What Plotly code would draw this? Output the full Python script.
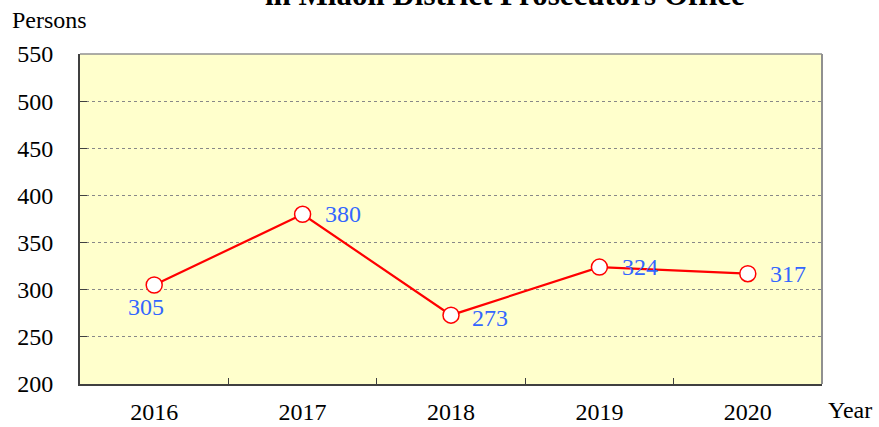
import plotly.graph_objects as go

years = ["2016", "2017", "2018", "2019", "2020"]
persons = [305, 380, 273, 324, 317]
y_ticks = [200, 250, 300, 350, 400, 450, 500, 550]
title_text = "in Miaoli District Prosecutors Office"

label_shift = [(-8, -22), (40, 0), (39, -3), (41, 0), (40, 0)]

FONT = "Liberation Serif, Times New Roman, serif"

fig = go.Figure()
fig.add_trace(go.Scatter(
    x=years, y=persons, mode="lines+markers",
    line=dict(color="#ff0000", width=2.2),
    marker=dict(size=16, color="white", line=dict(color="#ff0000", width=1.5)),
    hoverinfo="skip", showlegend=False,
))

annotations = []
for i, (v, (dx, dy)) in enumerate(zip(persons, label_shift)):
    annotations.append(dict(x=i, y=v, xref="x", yref="y", text=str(v), showarrow=False,
                            xshift=dx, yshift=dy,
                            font=dict(family=FONT, size=24, color="#3366ff")))
annotations.append(dict(x=-0.094, y=1.103, xref="paper", yref="paper", xanchor="left", yanchor="middle",
                        text="Persons", showarrow=False, font=dict(family=FONT, size=24, color="black")))
annotations.append(dict(x=1.006, y=-0.079, xref="paper", yref="paper", xanchor="left", yanchor="middle",
                        text="Year", showarrow=False, font=dict(family=FONT, size=24, color="black")))
annotations.append(dict(x=0.573, y=1.179, xref="paper", yref="paper", xanchor="center", yanchor="middle",
                        text="<b>" + title_text + "</b>", showarrow=False,
                        font=dict(family=FONT, size=31, color="black")))

fig.update_layout(
    width=879, height=427,
    margin=dict(l=80, r=57, t=54, b=43),
    paper_bgcolor="white", plot_bgcolor="#ffffcc",
    font=dict(family=FONT, size=24, color="black"),
    annotations=annotations,
    xaxis=dict(type="category", range=[-0.5, 4.5], showgrid=False, tickson="boundaries",
               ticks="inside", ticklen=6, tickcolor="#404040", ticklabelstandoff=5,
               showline=True, linecolor="#404040", linewidth=2, zeroline=False, automargin=False,
               tickfont=dict(family=FONT, size=24)),
    yaxis=dict(range=[200, 550], tickvals=y_ticks, ticks="inside", ticklen=7, tickcolor="#404040",
               showgrid=True, gridcolor="#888888", griddash="dot", gridwidth=1,
               showline=True, linecolor="#404040", linewidth=2, zeroline=False, automargin=False,
               ticklabelstandoff=20, tickfont=dict(family=FONT, size=24)),
    shapes=[dict(type="line", xref="paper", yref="paper", x0=0, x1=1, y0=1, y1=1,
                 line=dict(color="#909090", width=1.5)),
            dict(type="line", xref="paper", yref="paper", x0=1, x1=1, y0=0, y1=1,
                 line=dict(color="#909090", width=2))],
)

fig.write_html("out.html", config={"displayModeBar": False},
               post_script="document.body.style.margin='0';")
